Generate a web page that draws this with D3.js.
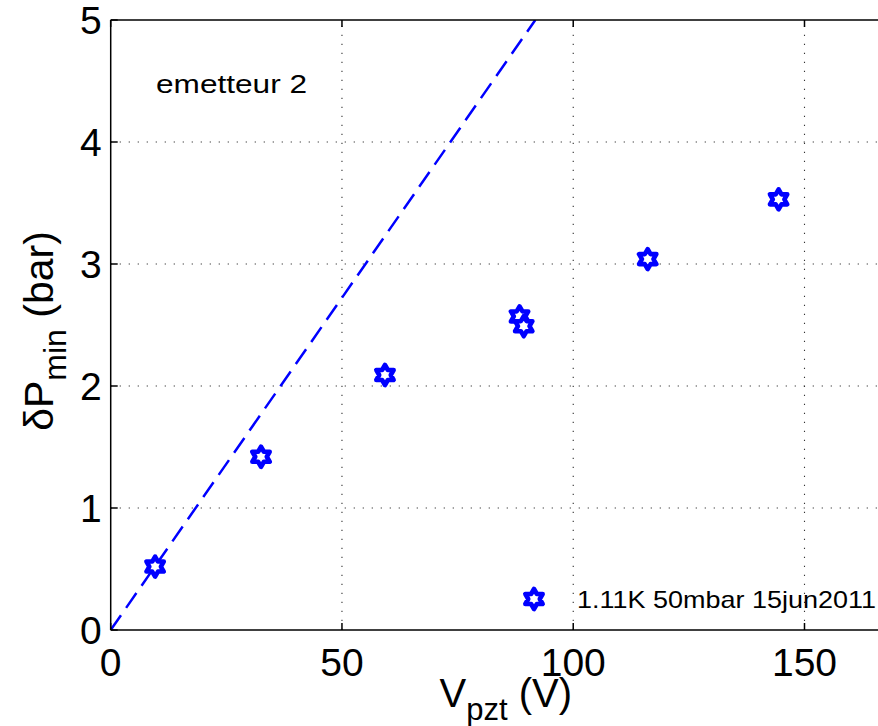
<!DOCTYPE html>
<html>
<head>
<meta charset="utf-8">
<script src="https://cdn.jsdelivr.net/npm/d3@7"></script>
<style>
  html, body { margin: 0; padding: 0; background: #fff; }
  svg { display: block; font-family: "Liberation Sans", Arial, Helvetica, sans-serif; }
</style>
</head>
<body>
<svg id="chart" width="878" height="726"></svg>
<script>
// ---- data ----
const vpzt  = [9.6, 32.5, 59.3, 88.4, 89.3, 116.1, 144.4];
const dPmin = [0.52, 1.42, 2.09, 2.57, 2.49, 3.04, 3.53];
const fitX = [0, 91.8];
const fitY = [0, 5];
const xTicks = [0, 50, 100, 150];
const yTicks = [0, 1, 2, 3, 4, 5];
const seriesLabel = "1.11K 50mbar 15jun2011";
const annotation = "emetteur 2";

// ---- layout ----
const plot = { left: 110.7, top: 20, right: 897, bottom: 630 };
const blue = "#0000ff";

const svg = d3.select("#chart");
const x = d3.scaleLinear().domain([0, 170]).range([plot.left, plot.right]);
const y = d3.scaleLinear().domain([0, 5]).range([plot.bottom, plot.top]);

svg.append("defs").append("clipPath").attr("id", "clip")
  .append("rect").attr("x", plot.left).attr("y", plot.top)
  .attr("width", plot.right - plot.left).attr("height", plot.bottom - plot.top);

// grid
const grid = svg.append("g").attr("stroke", "#333").attr("stroke-width", 1.1)
  .attr("stroke-dasharray", "1.2,7.8");
grid.selectAll("line.gx").data(xTicks.filter(d => d > 0)).join("line")
  .attr("x1", d => x(d)).attr("x2", d => x(d))
  .attr("y1", plot.bottom).attr("y2", plot.top);
grid.selectAll("line.gy").data(yTicks.filter(d => d > 0 && d < 5)).join("line")
  .attr("y1", d => y(d)).attr("y2", d => y(d))
  .attr("x1", plot.left).attr("x2", plot.right);

// fit line
svg.append("path")
  .datum(fitX.map((d, i) => [d, fitY[i]]))
  .attr("clip-path", "url(#clip)")
  .attr("d", d3.line().x(d => x(d[0])).y(d => y(d[1])))
  .attr("fill", "none").attr("stroke", blue).attr("stroke-width", 2.5)
  .attr("stroke-dasharray", "18,9");

// hexagram marker
function hexagram(R) {
  const r = R / Math.sqrt(3);
  const pts = [];
  for (let i = 0; i < 12; i++) {
    const a = -Math.PI / 2 + i * Math.PI / 6;
    const rad = i % 2 === 0 ? R : r;
    pts.push([rad * Math.cos(a), rad * Math.sin(a)]);
  }
  return "M" + pts.map(p => p[0].toFixed(2) + "," + p[1].toFixed(2)).join("L") + "Z";
}
const starPath = hexagram(10);

svg.append("g").selectAll("path").data(vpzt.map((d, i) => [d, dPmin[i]])).join("path")
  .attr("d", starPath)
  .attr("transform", d => `translate(${x(d[0])},${y(d[1])})`)
  .attr("fill", "#fff").attr("stroke", blue).attr("stroke-width", 4.6)
  .attr("stroke-linejoin", "round");

// axes box lines
const axisG = svg.append("g").attr("stroke", "#000").attr("stroke-width", 1.5).attr("fill", "none");
axisG.append("line").attr("x1", plot.left).attr("x2", plot.right).attr("y1", plot.bottom).attr("y2", plot.bottom);
axisG.append("line").attr("x1", plot.left).attr("x2", plot.right).attr("y1", plot.top).attr("y2", plot.top);
axisG.append("line").attr("x1", plot.left).attr("x2", plot.left).attr("y1", plot.top).attr("y2", plot.bottom);

// ticks (inward)
const tl = 7;
axisG.selectAll("line.tb").data(xTicks).join("line")
  .attr("x1", d => x(d)).attr("x2", d => x(d)).attr("y1", plot.bottom).attr("y2", plot.bottom - tl);
axisG.selectAll("line.tt").data(xTicks).join("line")
  .attr("x1", d => x(d)).attr("x2", d => x(d)).attr("y1", plot.top).attr("y2", plot.top + tl);
axisG.selectAll("line.tl").data(yTicks).join("line")
  .attr("y1", d => y(d)).attr("y2", d => y(d)).attr("x1", plot.left).attr("x2", plot.left + tl);

// tick labels
svg.append("g").selectAll("text").data(xTicks).join("text")
  .attr("x", d => x(d)).attr("y", plot.bottom + 46)
  .attr("text-anchor", "middle").attr("font-size", 39).attr("fill", "#000")
  .text(d => d);
svg.append("g").selectAll("text").data(yTicks).join("text")
  .attr("x", plot.left - 9).attr("y", d => y(d) + 14)
  .attr("text-anchor", "end").attr("font-size", 39).attr("fill", "#000")
  .text(d => d);

// x label
const xl = svg.append("text")
  .attr("x", (plot.left + plot.right) / 2 + 2).attr("y", 707)
  .attr("text-anchor", "middle").attr("font-size", 40).attr("fill", "#000");
xl.append("tspan").text("V");
xl.append("tspan").attr("font-size", 31).attr("dy", 13).text("pzt");
xl.append("tspan").attr("dy", -13).text("\u00a0(V)");

// y label
const yl = svg.append("text")
  .attr("transform", `translate(53,${(plot.top + plot.bottom) / 2 + 6}) rotate(-90)`)
  .attr("text-anchor", "middle").attr("font-size", 41).attr("fill", "#000");
yl.append("tspan").text("\u03b4P");
yl.append("tspan").attr("font-size", 32).attr("dy", 13).text("min");
yl.append("tspan").attr("dy", -13).text("\u00a0(bar)");

// annotation
svg.append("text").attr("x", 156).attr("y", 93)
  .attr("font-size", 26).attr("fill", "#000")
  .attr("textLength", 151).attr("lengthAdjust", "spacingAndGlyphs")
  .text(annotation);

// legend
svg.append("path").attr("d", starPath)
  .attr("transform", `translate(534,599)`)
  .attr("fill", "#fff").attr("stroke", blue).attr("stroke-width", 4.6)
  .attr("stroke-linejoin", "round");
svg.append("text").attr("x", 577).attr("y", 608)
  .attr("font-size", 24).attr("fill", "#000")
  .attr("textLength", 299).attr("lengthAdjust", "spacingAndGlyphs")
  .text(seriesLabel);
</script>
</body>
</html>
